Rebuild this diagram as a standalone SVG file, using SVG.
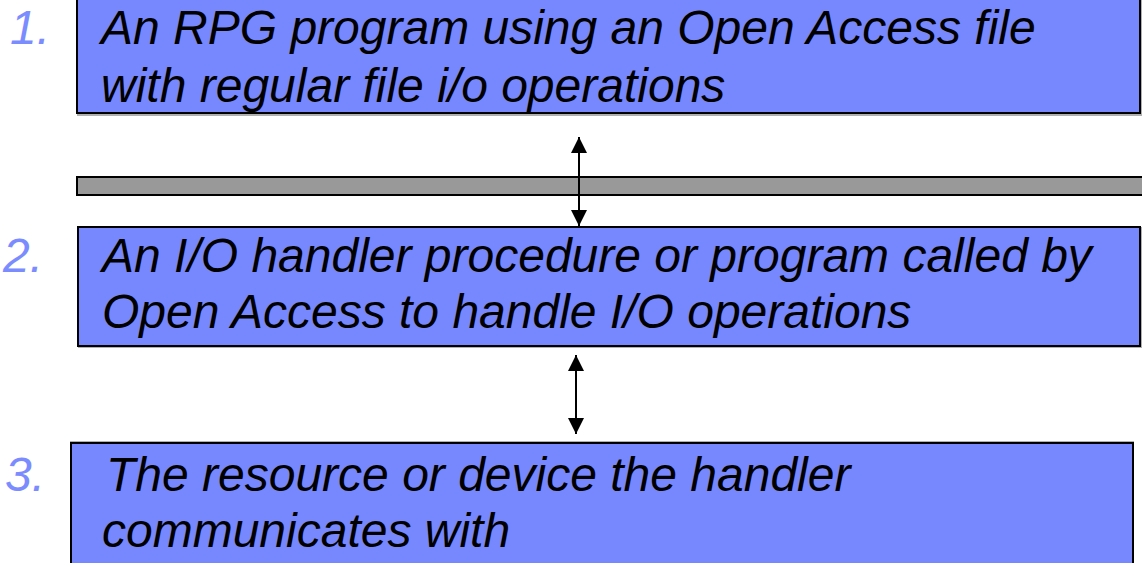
<svg xmlns="http://www.w3.org/2000/svg" width="1142" height="563" viewBox="0 0 1142 563">
<defs>
<style>
.box{fill:#7788ff;stroke:#000;stroke-width:2}
.shadow{fill:none;stroke:#b0b0b0;stroke-width:2}
.t{font-family:"Liberation Sans",Arial,sans-serif;font-style:italic;font-size:48px;fill:#000}
.n{font-family:"Liberation Sans",Arial,sans-serif;font-style:italic;font-size:48px;fill:#7b8cff}
.c{stroke:#000;stroke-width:2;fill:none;marker-start:url(#ah);marker-end:url(#ah)}
</style>
<marker id="ah" viewBox="0 0 10 10" refX="10" refY="5" markerWidth="8" markerHeight="8" orient="auto-start-reverse" markerUnits="strokeWidth">
<path d="M0,0 L10,5 L0,10 z" fill="#000"/>
</marker>
</defs>
<rect width="1142" height="563" fill="#fff"/>
<g id="node1">
<rect class="shadow" x="78" y="-2" width="1063" height="117"/>
<rect class="box" x="77" y="-3" width="1063" height="116"/>
<text class="n" x="10" y="44">1.</text>
<text class="t" x="101" y="44">An RPG program using an Open Access file</text>
<text class="t" x="101" y="102">with regular file i/o operations</text>
</g>
<g id="bar">
<rect x="77" y="177" width="1070" height="18" fill="#999" stroke="#000" stroke-width="2"/>
</g>
<g id="node2">
<rect class="shadow" x="79" y="228" width="1062" height="119"/>
<rect class="box" x="78" y="227" width="1062" height="119"/>
<text class="n" x="3" y="272">2.</text>
<text class="t" x="102" y="272">An I/O handler procedure or program called by</text>
<text class="t" x="102" y="328">Open Access to handle I/O operations</text>
</g>
<g id="node3">
<rect class="shadow" x="71" y="442" width="1062" height="130"/>
<rect class="box" x="71" y="443" width="1062" height="130"/>
<text class="n" x="5" y="491">3.</text>
<text class="t" x="106" y="491">The resource or device the handler</text>
<text class="t" x="102" y="547">communicates with</text>
</g>
<g id="connectors">
<line class="c" x1="579" y1="137" x2="579" y2="226"/>
<line class="c" x1="576" y1="355" x2="576" y2="434"/>
</g>
</svg>
